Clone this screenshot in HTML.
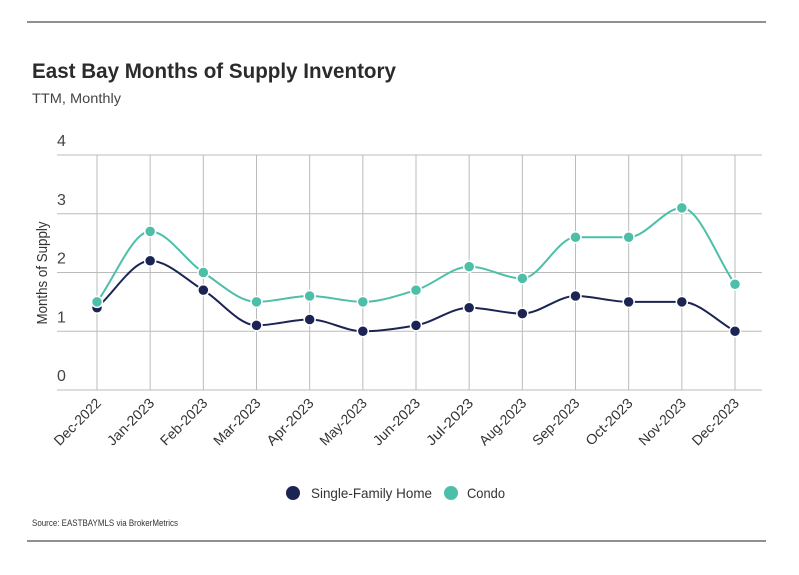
<!DOCTYPE html>
<html><head><meta charset="utf-8"><style>
body{margin:0;background:#fff;}
svg{display:block;font-family:"Liberation Sans",sans-serif;}
</style></head><body>
<svg id="chart" width="799" height="575">
<line x1="27" y1="22" x2="766" y2="22" stroke="#222" stroke-width="1"/>
<text x="32" y="78" font-size="21" font-weight="bold" fill="#2b2b2b" textLength="364" lengthAdjust="spacingAndGlyphs">East Bay Months of Supply Inventory</text>
<text x="32" y="103" font-size="14" fill="#444" textLength="89" lengthAdjust="spacingAndGlyphs">TTM, Monthly</text>
<g id="grid"></g>
<text transform="translate(47,273) rotate(-90)" text-anchor="middle" font-size="15" fill="#333" textLength="103" lengthAdjust="spacingAndGlyphs">Months of Supply</text>
<g id="series"></g>
<g>
<circle cx="293" cy="493" r="7" fill="#1b2452"/>
<text x="311" y="498" font-size="14" fill="#333" textLength="121" lengthAdjust="spacingAndGlyphs">Single-Family Home</text>
<circle cx="451" cy="493" r="7" fill="#4dbfa8"/>
<text x="467" y="498" font-size="14" fill="#333" textLength="38" lengthAdjust="spacingAndGlyphs">Condo</text>
</g>
<text x="32" y="526" font-size="9" fill="#333" textLength="146" lengthAdjust="spacingAndGlyphs">Source:  EASTBAYMLS via BrokerMetrics</text>
<line x1="27" y1="541" x2="766" y2="541" stroke="#222" stroke-width="1"/>
</svg>
<script>
const categories=["Dec-2022","Jan-2023","Feb-2023","Mar-2023","Apr-2023","May-2023","Jun-2023","Jul-2023","Aug-2023","Sep-2023","Oct-2023","Nov-2023","Dec-2023"];
const sfhValues=[1.4,2.2,1.7,1.1,1.2,1.0,1.1,1.4,1.3,1.6,1.5,1.5,1.0];
const condoValues=[1.5,2.7,2.0,1.5,1.6,1.5,1.7,2.1,1.9,2.6,2.6,3.1,1.8];
const yTicks=[0,1,2,3,4];
const NS="http://www.w3.org/2000/svg";
const x0=97,x1=735,yBase=390,yTop=155,yMax=4;
function xs(i){return x0+i*(x1-x0)/(categories.length-1);}
function ys(v){return yBase-(v/yMax)*(yBase-yTop);}
function mk(tag,attrs,parent){const e=document.createElementNS(NS,tag);for(const k in attrs)e.setAttribute(k,attrs[k]);parent.appendChild(e);return e;}
const grid=document.getElementById('grid');
yTicks.forEach(t=>{
  const l=mk('line',{x1:57,x2:762,y1:ys(t),y2:ys(t),stroke:'#bbb','stroke-width':1},grid);
  
  
  const tx=mk('text',{x:57,y:ys(t)-9,'font-size':16,fill:'#444'},grid);
  tx.textContent=t;
  
  
});
categories.forEach((c,i)=>{
  const l=mk('line',{x1:xs(i),x2:xs(i),y1:yTop,y2:yBase,stroke:'#bbb','stroke-width':1},grid);
  
  
  const tx=mk('text',{transform:`translate(${xs(i)+5},${yBase+14}) rotate(-45)`,'text-anchor':'end','font-size':14,fill:'#333',textLength:c.length>=8?60:58,lengthAdjust:'spacingAndGlyphs'},grid);
  tx.textContent=c;
  
  
});
function monotonePath(pts){
  const n=pts.length,d=[],m=[];
  for(let i=0;i<n-1;i++)d.push((pts[i+1][1]-pts[i][1])/(pts[i+1][0]-pts[i][0]));
  for(let i=0;i<n;i++){
    if(i===0)m.push(d[0]);else if(i===n-1)m.push(d[n-2]);
    else if(d[i-1]*d[i]<=0)m.push(0);
    else{const h0=pts[i][0]-pts[i-1][0],h1=pts[i+1][0]-pts[i][0];m.push(3*(h0+h1)/((2*h1+h0)/d[i-1]+(h1+2*h0)/d[i]));}
  }
  let p=`M${pts[0][0]},${pts[0][1]}`;
  for(let i=0;i<n-1;i++){const h=(pts[i+1][0]-pts[i][0])/3;
    p+=`C${pts[i][0]+h},${pts[i][1]+m[i]*h} ${pts[i+1][0]-h},${pts[i+1][1]-m[i+1]*h} ${pts[i+1][0]},${pts[i+1][1]}`;}
  return p;
}
const series=document.getElementById('series');
[[sfhValues,'#1b2452','sfh'],[condoValues,'#4dbfa8','condo']].forEach(([vals,col,nm])=>{
  const pts=vals.map((v,i)=>[xs(i),ys(v)]);
  const path=mk('path',{d:monotonePath(pts),fill:'none',stroke:col,'stroke-width':2},series);
  
  
  pts.forEach(p=>{
    const c=mk('circle',{cx:p[0],cy:p[1],r:5.5,fill:col,stroke:'#fff','stroke-width':1.5},series);
    
    
  });
});
</script>
</body></html>
